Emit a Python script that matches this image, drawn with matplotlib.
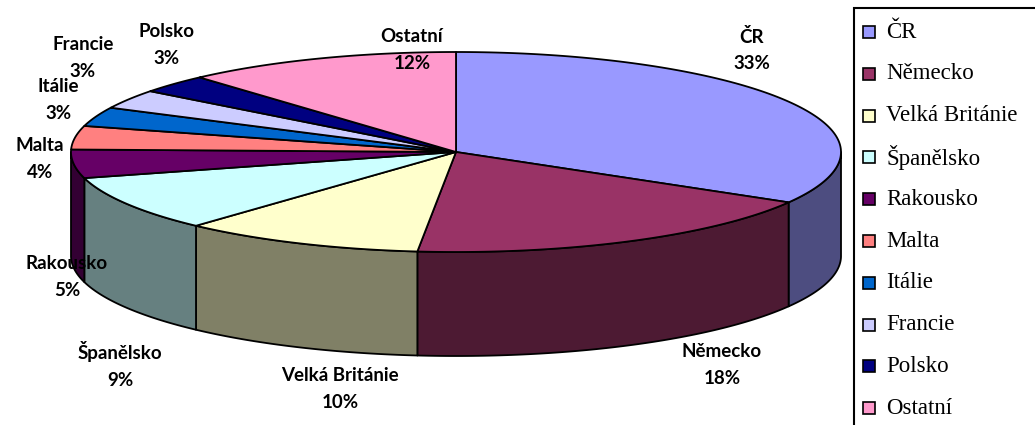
import numpy as np
import matplotlib
matplotlib.use("Agg")
import matplotlib.pyplot as plt
from matplotlib.patches import Polygon, Rectangle
from matplotlib.colors import to_rgb

categories = ["ČR", "Německo", "Velká Británie", "Španělsko", "Rakousko",
              "Malta", "Itálie", "Francie", "Polsko", "Ostatní"]
values = [33.4, 18.2, 10.2, 9.0, 4.6, 3.8, 3.1, 3.1, 3.0, 11.6]
colors = ["#9999FF", "#993366", "#FFFFCC", "#CCFFFF", "#660066",
          "#FF8080", "#0066CC", "#CCCCFF", "#000080", "#FF99CC"]

# label anchor positions in pixels (layout only)
label_pos = [(752, 50), (722, 365), (340, 389), (120, 365), (67, 277),
             (40, 159), (58, 100), (83, 58), (166, 45), (412, 50)]

W, H = 1035, 425
fig = plt.figure(figsize=(W / 100, H / 100), dpi=100)
ax = fig.add_axes([0, 0, 1, 1])
ax.set_xlim(0, W)
ax.set_ylim(H, 0)
ax.axis("off")

cx, cy, rx, ry, depth = 456, 152, 385, 100, 104
lw = 1.3

def pt(theta_deg, dy=0.0):
    t = np.radians(theta_deg)
    return cx + rx * np.sin(t), cy - ry * np.cos(t) + dy

total = float(sum(values))
bounds = np.concatenate([[0], np.cumsum(values)]) / total * 360.0

# side walls (front half: 90..270 degrees)
for i, c in enumerate(colors):
    a0, a1 = max(bounds[i], 90), min(bounds[i + 1], 270)
    if a1 <= a0:
        continue
    th = np.linspace(a0, a1, 80)
    top = [pt(t) for t in th]
    bot = [pt(t, depth) for t in th[::-1]]
    side = tuple(np.array(to_rgb(c)) * 0.5)
    ax.add_patch(Polygon(top + bot, closed=True, facecolor=side,
                         edgecolor="black", lw=lw, joinstyle="round"))

# top faces
for i, c in enumerate(colors):
    th = np.linspace(bounds[i], bounds[i + 1], 120)
    poly = [(cx, cy)] + [pt(t) for t in th]
    ax.add_patch(Polygon(poly, closed=True, facecolor=c,
                         edgecolor="black", lw=lw, joinstyle="round"))

# data labels
for name, v, (lx, ly) in zip(categories, values, label_pos):
    ax.text(lx, ly, f"{name}\n{round(v):d}%", ha="center", va="center",
            fontsize=13.5, fontweight="bold", family="Lato",
            linespacing=1.7, color="black", zorder=5)

# legend
ax.add_patch(Rectangle((854, 8), 200, 430, facecolor="white",
                       edgecolor="black", lw=1.5, zorder=6, clip_on=False))
for k, (name, c) in enumerate(zip(categories, colors)):
    yy = 32 + k * 41.8
    ax.add_patch(Rectangle((863, yy - 6), 12, 12, facecolor=c,
                           edgecolor="black", lw=1.2, zorder=7))
    ax.text(886, yy, name, ha="left", va="center", fontsize=16.5,
            family="Liberation Serif", zorder=7)

fig.savefig("out.png", dpi=100)
